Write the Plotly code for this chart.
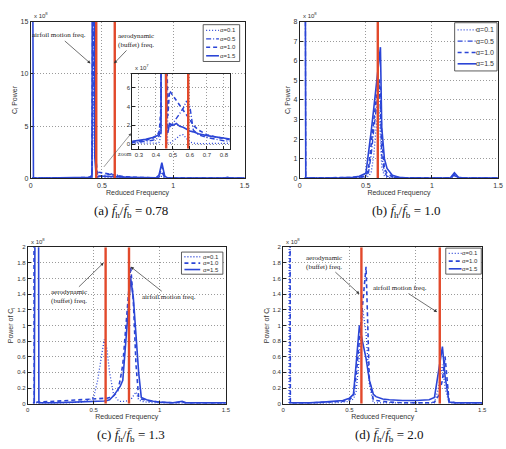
import plotly.graph_objects as go

W, H = 506, 449

# ---------------------------------------------------------------------------
# C_l power spectra (values in units of the exponent shown on each axis)
# ---------------------------------------------------------------------------
alphas = ["α=0.1", "α=0.5", "α=1.0", "α=1.5"]

# (a) f_h/f_b = 0.78   (x 10^8)
freq_a = [0.01, 0.02, 0.10, 0.20, 0.26, 0.30, 0.34, 0.38, 0.41, 0.42, 0.43, 0.44, 0.45,
          0.46, 0.47, 0.48, 0.50, 0.52, 0.54, 0.56, 0.58, 0.60, 0.62, 0.65, 0.70, 0.75,
          0.80, 0.85, 0.88, 0.90, 0.92, 0.94, 0.96, 1.00, 1.20, 1.36, 1.38, 1.40, 1.50]
a_01 = [0.005, 0.005, 0.005, 0.005, 0.005, 0.005, 0.005, 0.008, 0.01, 0.02, 0.1, 5.0, 25.0,
        0.3, 0.01, 0.005, 0.03, 0.06, 0.09, 0.10, 0.06, 0.02, 0.01, 0.005, 0.005, 0.005,
        0.005, 0.005, 0.005, 0.01, 0.2, 0.01, 0.005, 0.005, 0.005, 0.005, 0.01, 0.005, 0.005]
a_05 = [0.01, 0.01, 0.01, 0.01, 0.015, 0.02, 0.03, 0.04, 0.06, 0.09, 0.3, 10.0, 50.0,
        0.8, 0.15, 0.18, 0.22, 0.27, 0.32, 0.38, 0.46, 0.40, 0.15, 0.10, 0.07, 0.05,
        0.035, 0.03, 0.02, 0.1, 0.6, 0.08, 0.02, 0.01, 0.01, 0.01, 0.02, 0.01, 0.01]
a_10 = [0.01, 0.01, 0.01, 0.015, 0.02, 0.03, 0.04, 0.06, 0.10, 0.14, 0.4, 30.0, 60.0,
        1.5, 0.3, 0.57, 0.52, 0.46, 0.41, 0.36, 0.31, 0.26, 0.20, 0.15, 0.10, 0.075,
        0.06, 0.04, 0.03, 0.2, 1.1, 0.15, 0.02, 0.01, 0.01, 0.01, 0.03, 0.01, 0.01]
a_15 = [40.0, 0.01, 0.01, 0.015, 0.03, 0.04, 0.05, 0.07, 0.09, 0.11, 0.12, 80.0, 2.0,
        0.15, 0.12, 0.22, 0.20, 0.22, 0.19, 0.18, 0.16, 0.14, 0.13, 0.11, 0.09, 0.075,
        0.065, 0.05, 0.05, 0.3, 1.5, 0.2, 0.03, 0.02, 0.01, 0.01, 0.08, 0.01, 0.01]

# (b) f_h/f_b = 1.0   (x 10^8)
freq_b = [0.035, 0.045, 0.10, 0.20, 0.30, 0.40, 0.45, 0.50, 0.52, 0.54, 0.56, 0.58, 0.60,
          0.61, 0.62, 0.64, 0.66, 0.70, 0.75, 0.80, 0.90, 1.00, 1.10, 1.14, 1.17, 1.20,
          1.24, 1.30, 1.50]
b_01 = [0.01, 0.01, 0.005, 0.005, 0.01, 0.02, 0.03, 0.05, 0.1, 0.3, 1.2, 2.8, 3.5,
        2.0, 0.6, 0.1, 0.05, 0.02, 0.01, 0.01, 0.005, 0.005, 0.005, 0.01, 0.1, 0.02,
        0.005, 0.005, 0.005]
b_05 = [30.0, 0.01, 0.01, 0.01, 0.015, 0.03, 0.05, 0.1, 0.3, 1.2, 2.5, 3.8, 4.8,
        3.5, 1.2, 0.3, 0.1, 0.04, 0.02, 0.01, 0.01, 0.01, 0.01, 0.02, 0.15, 0.03,
        0.01, 0.01, 0.01]
b_10 = [0.01, 0.01, 0.01, 0.01, 0.02, 0.04, 0.06, 0.12, 0.5, 1.8, 3.0, 4.2, 5.1,
        4.6, 2.0, 0.5, 0.25, 0.08, 0.03, 0.02, 0.01, 0.01, 0.01, 0.02, 0.2, 0.03,
        0.01, 0.01, 0.01]
b_15 = [30.0, 0.01, 0.01, 0.01, 0.02, 0.05, 0.1, 0.25, 1.2, 2.4, 3.6, 4.9, 6.2,
        6.7, 2.6, 1.0, 0.5, 0.15, 0.05, 0.02, 0.01, 0.01, 0.01, 0.02, 0.28, 0.05,
        0.01, 0.01, 0.01]

# (c) f_h/f_b = 1.3   (x 10^8)
freq_c = [0.04, 0.05, 0.075, 0.085, 0.20, 0.30, 0.40, 0.45, 0.50, 0.53, 0.56, 0.58, 0.60,
          0.62, 0.65, 0.68, 0.70, 0.72, 0.74, 0.76, 0.78, 0.80, 0.82, 0.84, 0.86, 0.90,
          0.95, 1.00, 1.10, 1.17, 1.20, 1.30, 1.50]
c_01 = [0.01, 0.01, 0.01, 0.01, 0.01, 0.01, 0.02, 0.04, 0.08, 0.3, 0.62, 0.82, 0.7,
        0.4, 0.12, 0.05, 0.03, 0.03, 0.03, 0.04, 0.05, 0.1, 0.15, 0.05, 0.03, 0.02,
        0.01, 0.01, 0.01, 0.01, 0.01, 0.005, 0.005]
c_10 = [10.0, 0.01, 0.02, 0.02, 0.03, 0.04, 0.05, 0.05, 0.055, 0.06, 0.06, 0.06, 0.07,
        0.08, 0.1, 0.15, 0.3, 0.5, 0.9, 1.3, 1.75, 1.3, 0.5, 0.08, 0.06, 0.04,
        0.03, 0.02, 0.01, 0.02, 0.01, 0.01, 0.01]
c_15 = [0.01, 0.01, 10.0, 0.01, 0.01, 0.015, 0.02, 0.025, 0.03, 0.03, 0.035, 0.035, 0.04,
        0.05, 0.1, 0.17, 0.22, 0.3, 0.7, 1.1, 1.6, 1.35, 0.9, 0.4, 0.08, 0.05,
        0.03, 0.02, 0.01, 0.03, 0.01, 0.01, 0.01]

# (d) f_h/f_b = 2.0   (x 10^8)
freq_d = [0.045, 0.05, 0.055, 0.20, 0.30, 0.40, 0.45, 0.50, 0.53, 0.55, 0.575, 0.60, 0.625,
          0.65, 0.68, 0.70, 0.75, 0.80, 0.90, 1.00, 1.10, 1.14, 1.17, 1.20, 1.22, 1.25,
          1.30, 1.50]
d_01 = [0.01, 10.0, 0.01, 0.005, 0.005, 0.01, 0.02, 0.03, 0.06, 0.15, 0.6, 1.2, 0.9,
        0.25, 0.01, 0.01, 0.01, 0.005, 0.005, 0.005, 0.005, 0.01, 0.2, 0.5, 0.2, 0.01,
        0.005, 0.005]
d_10 = [10.0, 0.01, 0.01, 0.01, 0.015, 0.02, 0.03, 0.05, 0.1, 0.35, 0.8, 1.3, 1.75,
        0.3, 0.05, 0.04, 0.03, 0.02, 0.01, 0.01, 0.01, 0.02, 0.1, 0.3, 0.6, 0.03,
        0.01, 0.01]
d_15 = [0.01, 0.01, 0.01, 0.01, 0.02, 0.03, 0.04, 0.07, 0.12, 0.5, 1.0, 0.78, 0.58,
        0.3, 0.12, 0.09, 0.06, 0.05, 0.04, 0.04, 0.05, 0.08, 0.4, 0.73, 0.35, 0.02,
        0.01, 0.01]

# aerodynamic (buffet) frequency and heave/buffet frequency ratios
buffet_freq = 0.59
ratio_a, ratio_b, ratio_c, ratio_d = 0.78, 1.0, 1.3, 2.0

# ---------------------------------------------------------------------------
BLUE = "#2b45d6"
RED = "#e2492b"
SANS = "Liberation Sans, Arial, sans-serif"
SERIF = "Liberation Serif, Times New Roman, serif"
DASH = {"α=0.1": "1px,2px", "α=0.5": "5px,2px,1px,2px", "α=1.0": "4px,3px", "α=1.5": "solid"}
WIDTH = {"α=0.1": 1.3, "α=0.5": 1.4, "α=1.0": 1.6, "α=1.5": 1.6}

# plot-area boxes in pixels: left, right, top, bottom
BOX = {
    "a": (29, 246, 18, 177),
    "b": (302, 503, 18, 177),
    "c": (26, 227, 247, 406),
    "d": (285, 487, 247, 406),
    "z": (132, 231, 71, 147),
}


def fx(p):
    return p / W


def fy(p):
    return 1 - p / H


def dom(key):
    l, r, t, b = BOX[key]
    return [fx(l), fx(r)], [fy(b), fy(t)]


fig = go.Figure()


def add_spectra(freq, series, labels, xa, ya):
    for lab, ys in zip(labels, series):
        fig.add_trace(go.Scatter(
            x=freq, y=ys, mode="lines", name=lab, showlegend=False, hoverinfo="skip",
            line=dict(color=BLUE, width=WIDTH[lab], dash=DASH[lab]),
            xaxis=xa, yaxis=ya))


def add_marker_lines(freqs, y0, y1, xa, ya):
    for f in freqs:
        fig.add_trace(go.Scatter(
            x=[f, f], y=[y0, y1], mode="lines", showlegend=False, hoverinfo="skip",
            line=dict(color=RED, width=2.4), xaxis=xa, yaxis=ya))


# (a)
add_spectra(freq_a, [a_01, a_05, a_10, a_15], alphas, "x", "y")
add_marker_lines([ratio_a * buffet_freq, buffet_freq], 0, 15, "x", "y")
# (b)
add_spectra(freq_b, [b_01, b_05, b_10, b_15], alphas, "x2", "y2")
add_marker_lines([ratio_b * buffet_freq], 0, 8, "x2", "y2")
# (c)
lab3 = ["α=0.1", "α=1.0", "α=1.5"]
add_spectra(freq_c, [c_01, c_10, c_15], lab3, "x3", "y3")
add_marker_lines([buffet_freq, ratio_c * buffet_freq], 0, 2, "x3", "y3")
# (d)
add_spectra(freq_d, [d_01, d_10, d_15], lab3, "x4", "y4")
add_marker_lines([buffet_freq, ratio_d * buffet_freq], 0, 2, "x4", "y4")
# zoomed view of (a)
add_spectra(freq_a, [a_01, a_05, a_10, a_15], alphas, "x5", "y5")
add_marker_lines([ratio_a * buffet_freq, buffet_freq], -0.05, 0.75, "x5", "y5")


def axis(domain, rng, anchor, dtick=None, size=7, title=None, tickvals=None, ticktext=None):
    d = dict(domain=domain, range=rng, anchor=anchor, showline=True, mirror=True,
             linecolor="#222", linewidth=0.8, ticks="inside", ticklen=3, tickwidth=0.7,
             tickcolor="#222", showgrid=True, gridcolor="#9a9a9a", griddash="1px,2px",
             gridwidth=0.8, zeroline=False, fixedrange=True,
             tickfont=dict(family=SANS, size=size, color="#333"))
    if dtick is not None:
        d["dtick"] = dtick
        d["tick0"] = 0
    if tickvals is not None:
        d["tickmode"] = "array"
        d["tickvals"] = tickvals
        d["ticktext"] = ticktext
    if title:
        d["title"] = dict(text=title, font=dict(family=SANS, size=7, color="#333"), standoff=2)
    return d


xa, ya = dom("a")
xb, yb = dom("b")
xc, yc = dom("c")
xd, yd = dom("d")
xz, yz = dom("z")

XT = "Reduced Frequency"
fig.update_layout(
    width=W, height=H, autosize=False,
    margin=dict(l=0, r=0, t=0, b=0),
    paper_bgcolor="white", plot_bgcolor="white",
    xaxis=axis(xa, [0, 1.5], "y", 0.5, title=XT),
    yaxis=axis(ya, [0, 15], "x", 5, title="C<sub>l</sub> Power"),
    xaxis2=axis(xb, [0, 1.5], "y2", 0.5, title=XT),
    yaxis2=axis(yb, [0, 8], "x2", 1, title="C<sub>l</sub> Power"),
    xaxis3=axis(xc, [0, 1.5], "y3", 0.5, size=6, title=XT),
    yaxis3=axis(yc, [0, 2], "x3", 0.2, size=6, title="Power of C<sub>l</sub>"),
    xaxis4=axis(xd, [0, 1.5], "y4", 0.5, size=6, title=XT),
    yaxis4=axis(yd, [0, 2], "x4", 0.2, size=6, title="Power of C<sub>l</sub>"),
    xaxis5=axis(xz, [0.26, 0.835], "y5", 0.1, size=6),
    yaxis5=axis(yz, [-0.05, 0.75], "x5", size=6,
                tickvals=[0, 0.2, 0.4, 0.6], ticktext=["0", "2", "4", "6"]),
)

ann = []
shapes = []

# exponent labels
for key, exp in [("a", 8), ("b", 8), ("c", 8), ("d", 8), ("z", 7)]:
    l, r, t, b = BOX[key]
    ann.append(dict(xref="paper", yref="paper", x=fx(l + 1), y=fy(t - 0.5),
                    xanchor="left", yanchor="bottom", showarrow=False,
                    text=f"x 10<sup>{exp}</sup>",
                    font=dict(family=SANS, size=6, color="#333")))

# captions
for cx, cy, txt in [(131, 211, "(a) <i>f\u0304</i><sub>h</sub>/<i>f\u0304</i><sub>b</sub> = 0.78"),
                    (410, 211, "(b) <i>f\u0304</i><sub>h</sub>/<i>f\u0304</i><sub>b</sub> = 1.0"),
                    (131, 438, "(c) <i>f\u0304</i><sub>h</sub>/<i>f\u0304</i><sub>b</sub> = 1.3"),
                    (392, 438, "(d) <i>f\u0304</i><sub>h</sub>/<i>f\u0304</i><sub>b</sub> = 2.0")]:
    ann.append(dict(xref="paper", yref="paper", x=fx(cx), y=fy(cy), showarrow=False,
                    xanchor="center", yanchor="middle", text=txt,
                    font=dict(family=SERIF, size=13, color="#111")))

# arrowed notes
NOTE = dict(family=SERIF, size=7, color="#222")


def note(xr, yr, x, y, tx, ty, text):
    ann.append(dict(xref=xr, yref=yr, x=x, y=y, ax=tx, ay=ty, text=text, showarrow=True,
                    arrowhead=2, arrowsize=0.9, arrowwidth=0.7, arrowcolor="#333",
                    font=NOTE, align="center"))


note("x", "y", 0.42, 11.0, -32, -28, "airfoil motion freq.")
note("x", "y", 0.585, 11.0, 22, -23, "aerodynamic<br>(buffet) freq.")
note("x3", "y3", 0.575, 1.8, -35, 34, "aerodynamic<br>(buffet) freq.")
note("x3", "y3", 0.78, 1.75, 38, 30, "airfoil motion freq.")
note("x4", "y4", 0.575, 1.4, -35, -32, "aerodynamic<br>(buffet) freq.")
note("x4", "y4", 1.16, 1.17, -37, -24, "airfoil motion freq.")

# pointer to the zoomed view
ann.append(dict(xref="x", yref="y", axref="x", ayref="y", x=0.705, y=4.3, ax=0.505, ay=0.94,
                text="", showarrow=True, arrowhead=2, arrowsize=0.9, arrowwidth=0.6,
                arrowcolor="#555"))
ann.append(dict(xref="x", yref="y", x=0.66, y=2.3, text="zoom", showarrow=False,
                font=dict(family=SERIF, size=6, color="#333")))


def legend(left, top, width, row, line_len, size, labels):
    n = len(labels)
    pad = 1.5
    shapes.append(dict(type="rect", xref="paper", yref="paper",
                       x0=fx(left), x1=fx(left + width), y0=fy(top), y1=fy(top + 2 * pad + n * row),
                       line=dict(color="#333", width=0.8), fillcolor="white", layer="above"))
    for i, lab in enumerate(labels):
        yy = top + pad + row * (i + 0.5)
        shapes.append(dict(type="line", xref="paper", yref="paper",
                           x0=fx(left + 3), x1=fx(left + 3 + line_len), y0=fy(yy), y1=fy(yy),
                           line=dict(color=BLUE, width=WIDTH[lab], dash=DASH[lab]),
                           layer="above"))
        ann.append(dict(xref="paper", yref="paper", x=fx(left + width - 1.5), y=fy(yy),
                        xanchor="right", yanchor="middle", showarrow=False, text=lab,
                        font=dict(family=SANS, size=size, color="#333")))


legend(204, 21, 37, 8.6, 13, 6, alphas)
legend(459, 19, 43, 11.5, 19, 7, alphas)
legend(182, 252, 42, 6.5, 16, 6, lab3)
legend(450, 248, 36, 7.8, 13, 6, lab3)

fig.update_layout(annotations=ann, shapes=shapes)
fig.write_html("out.html")
